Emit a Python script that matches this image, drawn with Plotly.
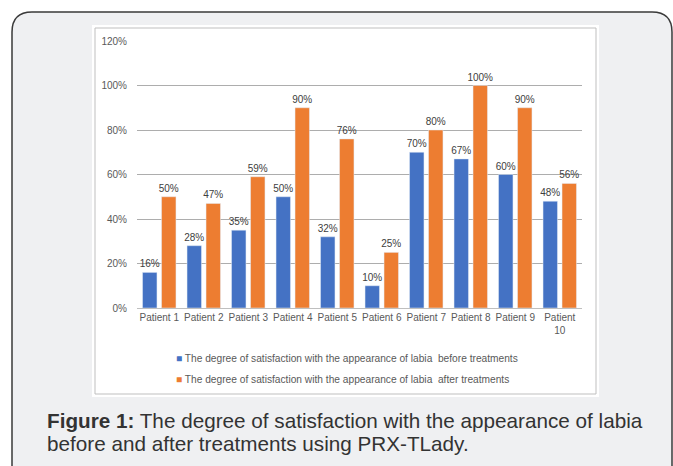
import plotly.graph_objects as go

# Satisfaction scores (fraction of patients) per patient
patients = ["Patient 1", "Patient 2", "Patient 3", "Patient 4", "Patient 5",
            "Patient 6", "Patient 7", "Patient 8", "Patient 9", "Patient<br>10"]
before = [0.16, 0.28, 0.35, 0.50, 0.32, 0.10, 0.70, 0.67, 0.60, 0.48]
after = [0.50, 0.47, 0.59, 0.90, 0.76, 0.25, 0.80, 1.00, 0.90, 0.56]

series_names = [
    "The degree of satisfaction with the appearance of labia  before treatments",
    "The degree of satisfaction with the appearance of labia  after treatments",
]
caption_bold = "Figure 1:"
caption_rest = [" The degree of satisfaction with the appearance of labia",
                "before and after treatments using PRX-TLady."]

BLUE = "#4472C4"
ORANGE = "#ED7D31"

W, H = 673, 466
# plot area in pixels
PL, PR, PT, PB = 137, 582, 41, 308


def px(x):
    return (x - PL) / (PR - PL)


def py(y):
    return (PB - y) / (PB - PT)


def rounded_rect(x0, y0, x1, y1, r):
    pts = [
        f"M{px(x0 + r)},{py(y0)}",
        f"L{px(x1 - r)},{py(y0)}",
        f"Q{px(x1)},{py(y0)} {px(x1)},{py(y0 + r)}",
        f"L{px(x1)},{py(y1 - r)}",
        f"Q{px(x1)},{py(y1)} {px(x1 - r)},{py(y1)}",
        f"L{px(x0 + r)},{py(y1)}",
        f"Q{px(x0)},{py(y1)} {px(x0)},{py(y1 - r)}",
        f"L{px(x0)},{py(y0 + r)}",
        f"Q{px(x0)},{py(y0)} {px(x0 + r)},{py(y0)}",
        "Z",
    ]
    return " ".join(pts)


label_font = dict(family="Liberation Sans", size=10, color="#404040")

fig = go.Figure()
fig.add_trace(go.Bar(
    x=patients, y=before, marker_color=BLUE, name=series_names[0],
    text=[f"{round(v * 100)}%" for v in before], textposition="outside",
    textfont=label_font, constraintext="none", cliponaxis=False,
    showlegend=False,
))
fig.add_trace(go.Bar(
    x=patients, y=after, marker_color=ORANGE, name=series_names[1],
    text=[f"{round(v * 100)}%" for v in after], textposition="outside",
    textfont=label_font, constraintext="none", cliponaxis=False,
    showlegend=False,
))

shapes = [
    # outer rounded panel
    dict(type="path", xref="paper", yref="paper", layer="below",
         path=rounded_rect(12, 12, 672, 490, 20),
         fillcolor="#EFF0F2", line=dict(color="#3A3A3A", width=1.5)),
    # white chart frame
    dict(type="rect", xref="paper", yref="paper", layer="below",
         x0=px(92), x1=px(599), y0=py(25), y1=py(397),
         fillcolor="white", line=dict(width=0)),
    dict(type="rect", xref="paper", yref="paper", layer="below",
         x0=px(95), x1=px(596), y0=py(28), y1=py(394),
         fillcolor="white", line=dict(color="#BFBFBF", width=1)),
]

annotations = []
# legend rows
for i, (name, col) in enumerate(zip(series_names, [BLUE, ORANGE])):
    annotations.append(dict(
        xref="paper", yref="paper", x=px(174), y=py(358 + 21 * i),
        xanchor="left", yanchor="middle", showarrow=False,
        text=f"<span style='color:{col}'>■</span> {name}",
        font=dict(family="Liberation Sans", size=10.2, color="#595959"),
    ))
# caption
annotations.append(dict(
    xref="paper", yref="paper", x=px(45), y=py(420),
    xanchor="left", yanchor="middle", showarrow=False,
    text=f"<b>{caption_bold}</b>{caption_rest[0]}",
    font=dict(family="Liberation Sans", size=20.7, color="#333333"),
))
annotations.append(dict(
    xref="paper", yref="paper", x=px(45), y=py(443.5),
    xanchor="left", yanchor="middle", showarrow=False,
    text=caption_rest[1],
    font=dict(family="Liberation Sans", size=20.7, color="#333333"),
))

fig.update_layout(
    width=W, height=H,
    margin=dict(l=PL, r=W - PR, t=PT, b=H - PB, pad=0),
    paper_bgcolor="white", plot_bgcolor="rgba(0,0,0,0)",
    barmode="group", bargap=0.146, bargroupgap=0.24,
    shapes=shapes, annotations=annotations,
    showlegend=False,
    xaxis=dict(
        showgrid=False, showline=True, linecolor="#BFBFBF", linewidth=1,
        tickfont=dict(family="Liberation Sans", size=10, color="#595959"),
        ticks="", fixedrange=True,
    ),
    yaxis=dict(
        range=[0, 1.2], dtick=0.2, tickformat=".0%",
        showgrid=True, gridcolor="#ADADAD", gridwidth=1,
        zeroline=False, showline=False, ticks="",
        ticklabelstandoff=9,
        tickfont=dict(family="Liberation Sans", size=10, color="#595959"),
        fixedrange=True,
    ),
)

fig.write_html("out.html")
